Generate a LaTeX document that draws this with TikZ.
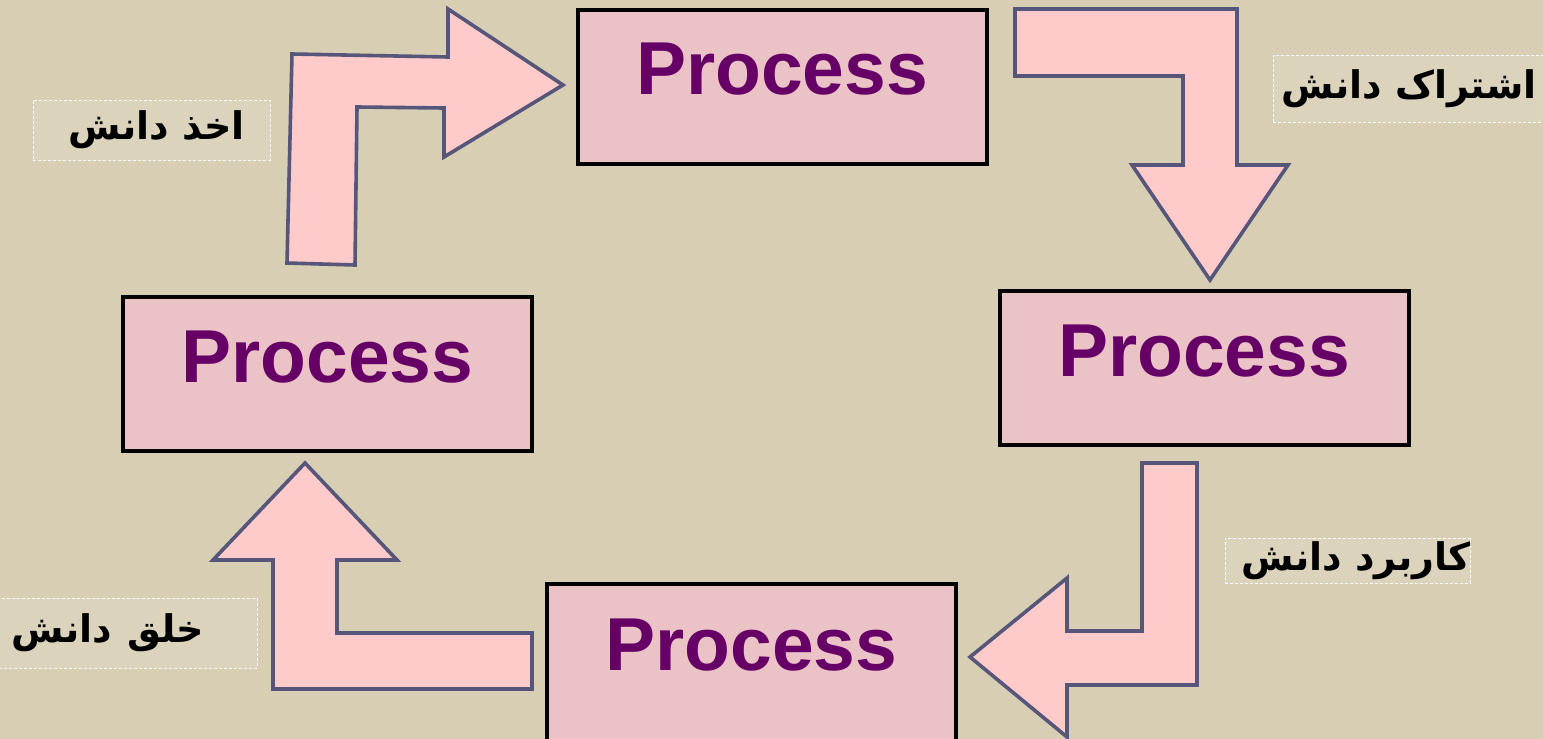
\documentclass[tikz,border=0pt]{standalone}
\usepackage{fontspec}
\setmainfont{Liberation Sans}
\newfontfamily\arabicfont[Script=Arabic]{DejaVu Sans}
\TeXXeTstate=1
\definecolor{bgbeige}{HTML}{D8CEB4}
\definecolor{boxpink}{HTML}{EBC3C6}
\definecolor{arrowpink}{HTML}{FFCACA}
\definecolor{arrowline}{HTML}{55567A}
\definecolor{procpurple}{HTML}{660066}
\begin{document}
\begin{tikzpicture}[x=1pt,y=-1pt,
  procbox/.style={draw=black, line width=4pt, fill=boxpink, minimum width=409pt, minimum height=154pt, inner sep=0pt},
  proctext/.style={text=procpurple, font=\fontsize{75}{80}\selectfont\bfseries, inner sep=0pt},
  blockarrow/.style={draw=arrowline, fill=arrowpink, line width=3.6pt, line join=miter},
  lblbox/.style={draw=white, densely dashed, line width=0.8pt, fill=white, fill opacity=0.12, text opacity=1, inner sep=0pt, font=\fontsize{38}{44}\selectfont\arabicfont\bfseries}
]
\useasboundingbox (0,0) rectangle (1543,739);
\fill[bgbeige] (0,0) rectangle (1543,739);

% process boxes
\node[procbox] (ptop) at (782,86.5) {};
\node[proctext] (ttop) at ([yshift=17pt]ptop.center) {Process};
\node[procbox] (pright) at (1204,368) {};
\node[proctext] (tright) at ([yshift=17pt]pright.center) {Process};
\node[procbox, minimum height=160pt] (pbottom) at (751.5,664) {};
\node[proctext] (tbottom) at (751.5,645) {Process};
\node[procbox] (pleft) at (327.5,374) {};
\node[proctext] (tleft) at ([yshift=17pt]pleft.center) {Process};

% block arrows
\draw[blockarrow] (292,54) -- (448,57) -- (448,9) -- (563,85) -- (444,157) -- (444,108) -- (357,107) -- (355,265) -- (287,263) -- cycle;
\draw[blockarrow] (1015,9) -- (1237,9) -- (1237,165) -- (1288,165) -- (1210,280) -- (1132,165) -- (1183,165) -- (1183,76) -- (1015,76) -- cycle;
\draw[blockarrow] (1142,463) -- (1197,463) -- (1197,685) -- (1067,685) -- (1067,737) -- (970,657) -- (1067,578) -- (1067,631) -- (1142,631) -- cycle;
\draw[blockarrow] (305,463) -- (397,560) -- (337,560) -- (337,633) -- (532,633) -- (532,689) -- (273,689) -- (273,560) -- (213,560) -- cycle;

% labels
\node[lblbox, minimum width=272pt, minimum height=67pt] (lshare) at (1409,88.5) {\beginR اشتراک دانش\endR};
\node[lblbox, minimum width=237pt, minimum height=60pt] (ltake) at (151.5,130) {\hspace{10pt}\beginR اخذ دانش\endR};
\node[lblbox, minimum width=242pt, minimum height=45pt] (luse) at (1348,560.5) {\hspace{16pt}\beginR کاربرد دانش\endR};
\node[lblbox, minimum width=258pt, minimum height=70pt] (lcreate) at (128,633) {\beginR خلق\hspace{0.4em}دانش\endR\kern40pt};
\end{tikzpicture}
\end{document}
